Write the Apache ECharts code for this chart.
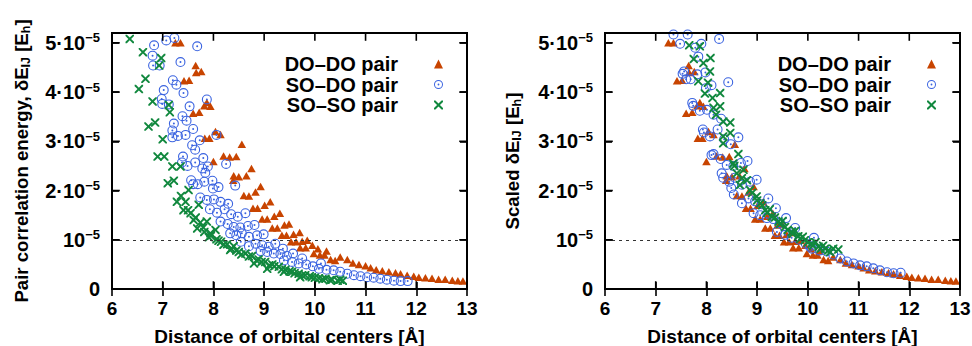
<!DOCTYPE html>
<html><head><meta charset="utf-8">
<script src="https://cdn.jsdelivr.net/npm/echarts@6/dist/echarts.min.js"></script>
<style>html,body{margin:0;padding:0;background:#fff}#c{width:972px;height:346px}</style>
</head><body><div id="c"></div>
<script>
// values in units of 1e-5 E_h, x in Angstrom
const seriesNames = ['DO–DO pair', 'SO–DO pair', 'SO–SO pair'];
const xTicks = [6, 7, 8, 9, 10, 11, 12, 13];
const yTicks = [0, 1, 2, 3, 4, 5];
const yMax = 5.2;
const yTickLabels = ['0', '10{sup|−5}', '2·10{sup|−5}', '3·10{sup|−5}', '4·10{sup|−5}', '5·10{sup|−5}'];
const hLineValue = 1; // 10^-5

const doDo = [[7.25,5.0],[7.35,5.0],[7.65,4.54],[7.66,4.40],[7.76,4.42],[7.42,4.23],[7.52,4.24],[7.60,3.57],[7.72,3.59],[7.82,3.72],[7.94,3.71],[7.87,3.79],[8.04,3.20],[8.14,3.14],[7.83,3.06],[7.92,3.06],[8.56,2.94],[8.20,2.70],[8.32,2.68],[8.45,2.69],[8.0,2.59],[8.75,2.45],[8.40,2.30],[8.50,2.28],[8.65,2.30],[8.39,2.21],[8.93,2.08],[8.60,1.90],[8.70,1.89],[8.83,1.97],[9.12,1.77],[8.78,1.64],[8.87,1.64],[9.01,1.70],[9.31,1.54],[8.96,1.42],[9.06,1.42],[9.20,1.48],[9.49,1.32],[9.16,1.24],[9.26,1.24],[9.40,1.30],[9.70,1.15],[9.35,1.09],[9.44,1.09],[9.58,1.11],[9.85,0.99],[9.53,0.96],[9.63,0.96],[9.75,0.97],[9.95,0.89],[9.71,0.84],[9.82,0.84],[10.06,0.82],[10.10,0.69],[10.19,0.69],[9.98,0.72],[10.23,0.77],[10.31,0.60],[10.40,0.58],[10.50,0.65],[10.64,0.60],[10.75,0.53],[10.87,0.50],[11.0,0.47],[11.10,0.43],[11.21,0.39],[11.33,0.37],[11.46,0.35],[11.59,0.33],[11.69,0.31],[11.82,0.28],[11.95,0.26],[12.05,0.24],[12.18,0.23],[12.31,0.22],[12.44,0.20],[12.57,0.20],[12.71,0.18],[12.82,0.17],[12.92,0.16]];

const soDoLeft = [[6.83,4.95],[7.07,5.05],[7.23,5.10],[7.68,4.93],[6.80,4.74],[6.81,4.54],[6.94,4.54],[7.35,4.61],[7.20,4.24],[7.27,4.15],[7.41,3.98],[7.02,4.04],[6.98,3.86],[6.99,3.76],[7.12,3.75],[7.53,3.71],[7.87,3.85],[7.39,3.51],[7.47,3.42],[7.22,3.36],[7.19,3.22],[7.19,3.08],[7.30,3.11],[7.45,3.13],[7.60,3.25],[7.73,3.02],[7.58,2.92],[7.64,2.83],[8.06,3.13],[7.40,2.69],[7.38,2.57],[7.49,2.50],[7.64,2.57],[7.80,2.66],[7.78,2.45],[7.89,2.49],[7.84,2.36],[8.25,2.54],[7.56,2.21],[7.60,2.13],[7.69,2.13],[7.82,2.18],[7.98,2.20],[8.10,2.07],[7.99,2.04],[8.43,2.10],[7.74,1.86],[7.87,1.81],[8.01,1.82],[8.14,1.77],[8.29,1.73],[7.93,1.62],[8.07,1.55],[8.22,1.62],[8.35,1.52],[8.48,1.47],[8.63,1.54],[8.14,1.37],[8.28,1.32],[8.40,1.26],[8.53,1.25],[8.68,1.28],[8.81,1.30],[8.33,1.13],[8.45,1.09],[8.56,1.13],[8.70,1.06],[8.86,1.09],[8.99,1.11],[8.54,0.96],[8.70,0.87],[8.83,0.92],[8.96,0.89],[9.09,0.86],[9.22,0.92],[9.37,0.82],[8.93,0.77],[9.06,0.75],[9.19,0.72],[9.32,0.71],[9.45,0.67],[9.57,0.72],[9.75,0.62],[9.39,0.58],[9.55,0.55],[9.68,0.52],[9.83,0.50],[9.96,0.46],[10.08,0.41],[10.12,0.52],[10.23,0.39],[10.37,0.38],[10.50,0.35],[10.64,0.31],[10.77,0.28],[10.90,0.26],[11.03,0.24],[11.16,0.23],[11.29,0.21],[11.42,0.19],[11.56,0.17],[11.69,0.16],[11.83,0.16]];

const soSoLeft = [[6.35,5.08],[6.61,4.81],[6.97,4.69],[6.93,4.54],[6.66,4.27],[6.53,4.06],[6.80,3.81],[7.12,3.74],[7.14,3.59],[6.72,3.30],[6.85,3.38],[7.0,3.04],[6.90,2.69],[7.03,2.69],[7.19,2.49],[7.35,2.49],[7.10,2.15],[7.22,2.20],[7.51,2.01],[7.36,1.89],[7.28,1.77],[7.45,1.77],[7.71,1.71],[7.41,1.60],[7.55,1.54],[7.61,1.40],[7.74,1.35],[7.68,1.23],[7.87,1.37],[7.82,1.16],[7.94,1.13],[8.04,1.20],[7.91,1.05],[8.06,1.01],[8.15,0.96],[8.27,0.91],[8.40,0.87],[8.33,0.79],[8.50,0.75],[8.63,0.72],[8.76,0.67],[8.89,0.60],[9.02,0.55],[9.16,0.50],[9.29,0.45],[9.42,0.39],[9.55,0.35],[9.68,0.31],[9.81,0.28],[9.94,0.24],[10.08,0.22],[10.21,0.21],[10.34,0.19],[10.50,0.19],[8.80,0.52],[9.06,0.41],[9.39,0.35],[9.71,0.24],[7.50,1.60],[7.65,1.45],[7.80,1.25],[7.95,1.08],[8.10,0.98],[8.20,0.90],[8.35,0.82],[8.45,0.78],[8.55,0.70],[8.70,0.66],[8.85,0.58],[8.95,0.55],[9.10,0.48],[9.20,0.46],[9.35,0.40],[9.50,0.36],[9.60,0.32],[9.75,0.28],[9.90,0.26],[10.00,0.23],[10.15,0.20],[10.30,0.18],[10.45,0.17],[10.55,0.17]];

const soDoRight = [[7.35,5.17],[7.63,5.17],[7.48,4.98],[7.90,4.98],[7.78,4.90],[7.84,4.72],[8.25,5.08],[7.53,4.37],[7.56,4.42],[7.60,4.26],[7.69,4.26],[7.82,4.36],[7.98,4.40],[8.10,4.14],[7.99,4.08],[8.43,4.20],[7.74,3.72],[7.72,3.78],[7.87,3.62],[8.01,3.64],[8.14,3.54],[8.29,3.46],[7.93,3.24],[7.95,3.18],[8.07,3.10],[8.22,3.24],[8.35,3.04],[8.48,2.94],[8.63,3.08],[8.14,2.74],[8.10,2.72],[8.28,2.64],[8.40,2.52],[8.53,2.50],[8.68,2.56],[8.81,2.60],[8.33,2.26],[8.30,2.35],[8.45,2.18],[8.56,2.26],[8.70,2.12],[8.86,2.18],[8.99,2.22],[8.54,1.92],[8.49,2.05],[8.70,1.74],[8.83,1.84],[8.96,1.78],[9.09,1.72],[9.22,1.84],[9.37,1.64],[8.93,1.54],[9.06,1.50],[9.19,1.44],[9.32,1.42],[9.45,1.34],[9.57,1.44],[9.75,1.24],[9.39,1.16],[9.55,1.10],[9.68,1.04],[9.83,1.00],[9.96,0.92],[10.04,0.86],[10.08,0.82],[10.12,1.04],[10.23,0.78],[10.37,0.76],[10.50,0.70],[10.64,0.62],[10.77,0.56],[10.90,0.52],[11.03,0.48],[11.16,0.46],[11.29,0.42],[11.42,0.38],[11.56,0.34],[11.69,0.32],[11.83,0.33]];

const soSoRight = [[7.66,4.95],[7.87,4.93],[7.75,4.67],[7.94,4.59],[8.08,4.69],[8.07,4.42],[7.84,4.22],[7.97,3.97],[8.12,3.88],[8.27,3.98],[8.03,4.19],[8.14,3.68],[8.27,3.71],[8.19,3.54],[8.33,3.40],[8.47,3.38],[8.47,3.17],[8.33,3.10],[8.33,2.96],[8.63,2.74],[8.53,2.55],[8.73,2.42],[8.80,2.21],[8.66,2.11],[8.86,2.01],[8.99,1.88],[9.06,1.74],[9.16,1.60],[9.29,1.47],[9.42,1.37],[9.55,1.26],[9.68,1.16],[9.81,1.07],[9.94,0.99],[10.07,0.92],[10.21,0.86],[10.34,0.82],[10.44,0.75],[10.60,0.80],[8.55,2.50],[8.60,2.35],[8.70,2.25],[8.90,1.95],[9.00,1.80],[9.10,1.70],[9.20,1.55],[9.25,1.62],[9.35,1.45],[9.45,1.32],[9.50,1.38],[9.60,1.20],[9.70,1.12],[9.75,1.18],[9.85,1.02],[9.90,1.06],[10.00,0.95],[10.10,0.88],[10.15,0.95],[10.25,0.82],[10.30,0.88],[10.40,0.78],[10.50,0.82]];

const colors = ['#c84400', '#3a63e0', '#11883e'];
const FONT = '"Liberation Sans", Arial, Helvetica, sans-serif';
const ringDot = 'path://M10,0A10,10,0,1,1,-10,0A10,10,0,1,1,10,0ZM7.8,0A7.8,7.8,0,1,0,-7.8,0A7.8,7.8,0,1,0,7.8,0ZM2,0A2,2,0,1,1,-2,0A2,2,0,1,1,2,0Z';
const cross = 'path://M0,0L1.6,0L5,3.4L8.4,0L10,0L10,1.6L6.6,5L10,8.4L10,10L8.4,10L5,6.6L1.6,10L0,10L0,8.4L3.4,5L0,1.6Z';

const chart = echarts.init(document.getElementById('c'), null, {renderer: 'svg'});

const grids = [
  {left: 112, width: 355, top: 33, bottom: 57, outerBoundsMode: 'none'},
  {left: 605, width: 355, top: 33, bottom: 57, outerBoundsMode: 'none'}
];
const yNames = [
  '{b|Pair correlation energy, δE}{s|IJ}{b| [E}{s|h}{b|]}',
  '{b|Scaled δE}{s|IJ}{b| [E}{s|h}{b|]}'
];
const nameRich = {
  b: {fontFamily: FONT, fontWeight: 'bold', fontSize: 18.6, color: '#000', lineHeight: 22},
  s: {fontFamily: FONT, fontWeight: 'bold', fontSize: 12.5, color: '#000', verticalAlign: 'bottom', lineHeight: 22, padding: [8, 0, 0, 0]}
};
function axisLine() { return {show: true, lineStyle: {color: '#000', width: 2}}; }
function tick() { return {show: true, inside: true, length: 7, lineStyle: {color: '#000', width: 1.6}}; }

const xAxis = [], yAxis = [];
for (let g = 0; g < 2; g++) {
  xAxis.push({
    type: 'value', gridIndex: g, min: xTicks[0], max: xTicks[xTicks.length - 1], interval: 1, position: 'bottom',
    axisLine: axisLine(), axisTick: tick(), splitLine: {show: false},
    axisLabel: {fontFamily: FONT, fontWeight: 'bold', fontSize: 19, color: '#000', margin: 10},
    name: 'Distance of orbital centers [Å]', nameLocation: 'middle', nameGap: 38,
    nameTextStyle: {fontFamily: FONT, fontWeight: 'bold', fontSize: 19, color: '#000'}
  });
  xAxis.push({
    type: 'value', gridIndex: g, min: xTicks[0], max: xTicks[xTicks.length - 1], interval: 1, position: 'top',
    axisLine: axisLine(), axisTick: tick(), splitLine: {show: false}, axisLabel: {show: false}
  });
  yAxis.push({
    type: 'value', gridIndex: g, min: 0, max: yMax, interval: 1, position: 'left',
    axisLine: axisLine(), axisTick: tick(), splitLine: {show: false},
    axisLabel: {
      fontFamily: FONT, fontWeight: 'bold', fontSize: 20, color: '#000', margin: 12,
      formatter: v => yTickLabels[Math.round(v)] || '',
      rich: {sup: {fontFamily: FONT, fontWeight: 'bold', fontSize: 13, color: '#000', verticalAlign: 'top', padding: [0, 0, 10, 0]}}
    },
    name: yNames[g], nameLocation: 'middle', nameGap: g === 0 ? 80 : 82,
    nameTextStyle: {rich: nameRich}
  });
  yAxis.push({
    type: 'value', gridIndex: g, min: 0, max: yMax, interval: 1, position: 'right',
    axisLine: axisLine(), axisTick: tick(), splitLine: {show: false}, axisLabel: {show: false}
  });
}

function mkSeries(name, data, g, idx) {
  const base = {
    name: name, type: 'scatter', xAxisIndex: g * 2, yAxisIndex: g * 2, data: data,
    itemStyle: {color: colors[idx], opacity: 1}
  };
  if (idx === 0) { base.symbol = 'triangle'; base.symbolSize = [8.5, 7.5]; }
  if (idx === 1) { base.symbol = ringDot; base.symbolSize = 10; }
  if (idx === 2) { base.symbol = cross; base.symbolSize = 8.5; }
  if (idx === 0) {
    base.markLine = {
      silent: true, symbol: 'none', label: {show: false},
      lineStyle: {color: '#333', width: 1.2, type: [3, 4]},
      data: [{yAxis: hLineValue}]
    };
  }
  return base;
}

const series = [
  mkSeries(seriesNames[0], doDo, 0, 0),
  mkSeries(seriesNames[1], soDoLeft, 0, 1),
  mkSeries(seriesNames[2], soSoLeft, 0, 2),
  mkSeries(seriesNames[0], doDo, 1, 0),
  mkSeries(seriesNames[1], soDoRight, 1, 1),
  mkSeries(seriesNames[2], soSoRight, 1, 2)
];

function legendFor(right) {
  return {
    orient: 'vertical', align: 'right', top: 49, right: right, itemGap: 0.5, itemWidth: 9, itemHeight: 9,
    selectedMode: false,
    textStyle: {fontFamily: FONT, fontWeight: 'bold', fontSize: 20, color: '#000', lineHeight: 19, padding: [0, 31, 0, 0]},
    data: seriesNames
  };
}

chart.setOption({
  animation: false,
  grid: grids,
  xAxis: xAxis,
  yAxis: yAxis,
  legend: [legendFor(524), legendFor(31)],
  series: series
});

// Frame and inward ticks as top-level graphic lines, positioned through the axes' own scales
const TICK = 7;
const gfx = [];
function addLine(a, b, w) {
  gfx.push({type: 'line', z: 100, silent: true,
    shape: {x1: a[0], y1: a[1], x2: b[0], y2: b[1]},
    style: {stroke: '#000', lineWidth: w, lineCap: 'square'}});
}
for (let g = 0; g < 2; g++) {
  const finder = {xAxisIndex: g * 2, yAxisIndex: g * 2};
  const px = (x, y) => chart.convertToPixel(finder, [x, y]);
  const x0 = xTicks[0], x1 = xTicks[xTicks.length - 1];
  const bl = px(x0, 0), br = px(x1, 0), tl = px(x0, yMax), tr = px(x1, yMax);
  addLine(bl, br, 2); addLine(tl, tr, 2); addLine(bl, tl, 2); addLine(br, tr, 2);
  xTicks.slice(1, -1).forEach(x => {
    const b = px(x, 0), t = px(x, yMax);
    addLine(b, [b[0], b[1] - TICK], 1.6);
    addLine(t, [t[0], t[1] + TICK], 1.6);
  });
  yTicks.slice(1).forEach(y => {
    const l = px(x0, y), r = px(x1, y);
    addLine(l, [l[0] + TICK, l[1]], 1.6);
    addLine(r, [r[0] - TICK, r[1]], 1.6);
  });
}
chart.setOption({graphic: {elements: gfx}});
</script></body></html>
